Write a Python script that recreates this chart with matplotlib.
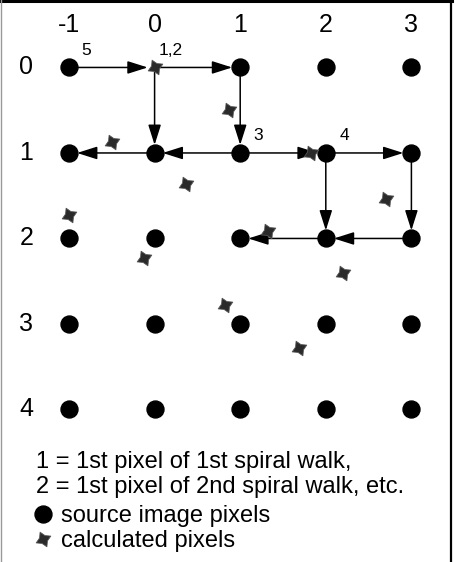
import matplotlib
matplotlib.use("Agg")
import matplotlib.pyplot as plt
from matplotlib.path import Path
from matplotlib.lines import Line2D
from matplotlib.patches import ArrowStyle
import numpy as np

plt.rcParams['font.family'] = ['Liberation Sans', 'DejaVu Sans']

# ---------------- data ----------------
col_labels = [-1, 0, 1, 2, 3]
row_labels = [0, 1, 2, 3, 4]
# source grid positions not drawn as source pixels (covered by calculated pixel)
missing_source = [(0, 0)]

# calculated pixels (column, row)
calc_x = [0.00, 0.87, -0.50, 0.37, -1.00, 1.83, 2.70, 1.32, -0.12, 2.20, 0.82, 1.69]
calc_y = [0.00, 0.50, 0.87, 1.36, 1.73, 1.00, 1.54, 1.91, 2.23, 2.40, 2.78, 3.28]

# spiral-walk arrows (from -> to)
arrow_from_x = [-1, 0, 0, 1, 1, 0, 1, 2, 2, 3, 3, 2]
arrow_from_y = [0, 0, 0, 0, 1, 1, 1, 1, 1, 1, 2, 2]
arrow_to_x   = [0, 1, 0, 1, 0, -1, 2, 3, 2, 3, 2, 1]
arrow_to_y   = [0, 0, 1, 1, 1, 1, 1, 1, 2, 2, 2, 2]
arrow_target_is_calc = [True, False, False, False, False, False,
                        False, False, False, False, False, False]

# walk-start labels
walk_labels = ["5", "1,2", "3", "4"]
walk_label_x = [-1, 0, 1, 2]
walk_label_y = [0, 0, 1, 1]

legend_title = "1 = 1st pixel of 1st spiral walk,\n2 = 1st pixel of 2nd spiral walk, etc."
legend_labels = ["source image pixels", "calculated pixels"]

# ---------------- figure ----------------
W, H = 456, 562
fig = plt.figure(figsize=(W / 100, H / 100), dpi=100)
ax = fig.add_axes([0, 0, 1, 1])
ax.set_xlim(-1.806, 3.521)
ax.set_ylim(5.784, -0.789)
ax.axis('off')

# star marker (4-pointed, concave sides)
n = 4
rot = np.deg2rad(25)
verts = []
for i in range(2 * n):
    r = 1.0 if i % 2 == 0 else 0.52
    a = rot + i * np.pi / n
    verts.append((r * np.cos(a), r * np.sin(a)))
verts.append(verts[0])
codes = [Path.MOVETO] + [Path.LINETO] * (2 * n - 1) + [Path.CLOSEPOLY]
star = Path(verts, codes)

dot_ms = 12.2
star_ms = 10.5
star_fc = '#2a2a2a'
star_ec = '#555555'

# source pixels
src_x, src_y = [], []
for r in row_labels:
    for c in col_labels:
        if (c, r) not in missing_source:
            src_x.append(c)
            src_y.append(r)
ax.plot(src_x, src_y, linestyle='none', marker='o', markersize=dot_ms,
        color='black', zorder=3)

# arrows
style = ArrowStyle('-|>', head_length=12.3, head_width=3.9)
for fx, fy, tx, ty, tc in zip(arrow_from_x, arrow_from_y, arrow_to_x, arrow_to_y,
                              arrow_target_is_calc):
    ax.annotate('', xy=(tx, ty), xytext=(fx, fy),
                arrowprops=dict(arrowstyle=style, mutation_scale=1,
                                color='black', lw=1.1,
                                shrinkA=0, shrinkB=5.0 if tc else 5.8),
                zorder=2)

# calculated pixels
ax.plot(calc_x, calc_y, linestyle='none', marker=star, markersize=star_ms,
        markerfacecolor=star_fc, markeredgecolor=star_ec,
        markeredgewidth=0.6, zorder=4)

# walk labels
label_offsets = {"5": 12, "1,2": 4.5, "3": 13, "4": 13.5}
for t, x, y in zip(walk_labels, walk_label_x, walk_label_y):
    ax.annotate(t, xy=(x, y), xytext=(label_offsets[t], 12.5),
                textcoords='offset pixels', fontsize=12.5,
                ha='left', va='baseline', zorder=5)

# column / row labels
for c in col_labels:
    ax.text(c, -0.5, str(c), fontsize=18, ha='center', va='center')
for r in row_labels:
    ax.text(-1.5, r, str(r), fontsize=18, ha='center', va='center')

# legend
handles = [
    Line2D([], [], linestyle='none', marker='o', markersize=dot_ms, color='black'),
    Line2D([], [], linestyle='none', marker=star, markersize=star_ms,
           markerfacecolor=star_fc, markeredgecolor=star_ec, markeredgewidth=0.6),
]
fs = 17
leg = ax.legend(handles, legend_labels, title=legend_title,
                title_fontproperties={'size': fs}, fontsize=fs,
                frameon=False, loc='upper left',
                bbox_to_anchor=(35.7 / W, 1 - 451 / H),
                borderpad=0, borderaxespad=0, handlelength=0.62,
                handletextpad=0.45, labelspacing=0.12, alignment='left')
leg.get_title().set_linespacing(1.15)
leg._legend_box.sep = 5.6

# border lines (top black, left gray, right black)
fig.add_artist(Line2D([0, 452 / W], [1 - 1.2 / H, 1 - 1.2 / H], transform=fig.transFigure,
                      color='black', lw=2.2))
fig.add_artist(Line2D([1.2 / W, 1.2 / W], [0, 1], transform=fig.transFigure,
                      color='#999999', lw=1.0))
fig.add_artist(Line2D([451 / W, 451 / W], [0, 1], transform=fig.transFigure,
                      color='black', lw=1.6))

fig.savefig('out.png', dpi=100)
